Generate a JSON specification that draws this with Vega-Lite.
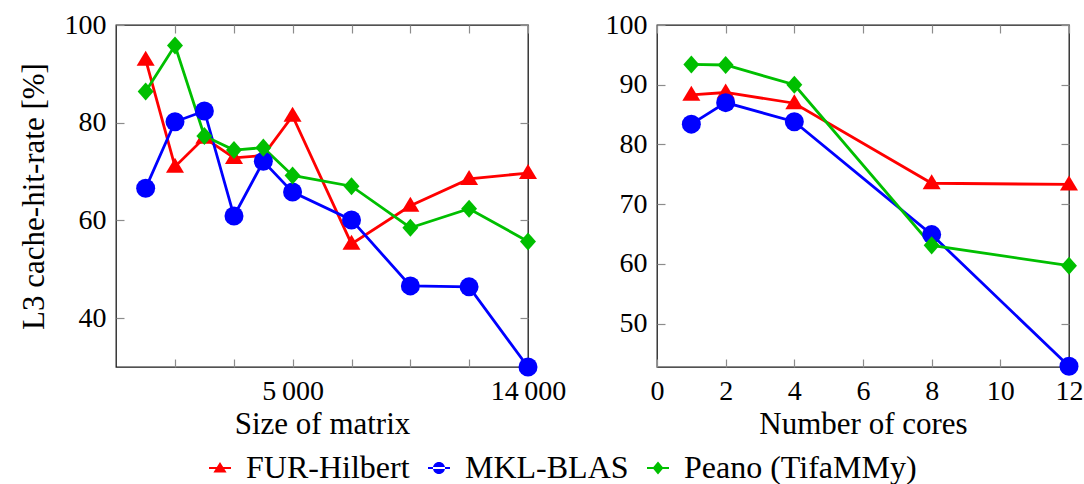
{
  "$schema": "https://vega.github.io/schema/vega-lite/v6.json",
  "padding": {"left": 17, "top": 10, "right": 5, "bottom": 5},
  "datasets": {
    "size": [
      {"series": "FUR-Hilbert", "size": 2630, "rate": 92.9},
      {"series": "FUR-Hilbert", "size": 2990, "rate": 71.0},
      {"series": "FUR-Hilbert", "size": 3400, "rate": 76.9},
      {"series": "FUR-Hilbert", "size": 3870, "rate": 72.8},
      {"series": "FUR-Hilbert", "size": 4400, "rate": 73.3},
      {"series": "FUR-Hilbert", "size": 5000, "rate": 81.4},
      {"series": "FUR-Hilbert", "size": 6470, "rate": 55.2},
      {"series": "FUR-Hilbert", "size": 8370, "rate": 63.0},
      {"series": "FUR-Hilbert", "size": 10820, "rate": 68.5},
      {"series": "FUR-Hilbert", "size": 14000, "rate": 69.7},
      {"series": "MKL-BLAS", "size": 2630, "rate": 66.6},
      {"series": "MKL-BLAS", "size": 2990, "rate": 80.2},
      {"series": "MKL-BLAS", "size": 3400, "rate": 82.4},
      {"series": "MKL-BLAS", "size": 3870, "rate": 60.9},
      {"series": "MKL-BLAS", "size": 4400, "rate": 72.1},
      {"series": "MKL-BLAS", "size": 5000, "rate": 65.8},
      {"series": "MKL-BLAS", "size": 6470, "rate": 60.1},
      {"series": "MKL-BLAS", "size": 8370, "rate": 46.6},
      {"series": "MKL-BLAS", "size": 10820, "rate": 46.4},
      {"series": "MKL-BLAS", "size": 14000, "rate": 30.0},
      {"series": "Peano (TifaMMy)", "size": 2630, "rate": 86.4},
      {"series": "Peano (TifaMMy)", "size": 2990, "rate": 95.8},
      {"series": "Peano (TifaMMy)", "size": 3400, "rate": 77.3},
      {"series": "Peano (TifaMMy)", "size": 3870, "rate": 74.4},
      {"series": "Peano (TifaMMy)", "size": 4400, "rate": 74.9},
      {"series": "Peano (TifaMMy)", "size": 5000, "rate": 69.2},
      {"series": "Peano (TifaMMy)", "size": 6470, "rate": 67.0},
      {"series": "Peano (TifaMMy)", "size": 8370, "rate": 58.5},
      {"series": "Peano (TifaMMy)", "size": 10820, "rate": 62.4},
      {"series": "Peano (TifaMMy)", "size": 14000, "rate": 55.7}
    ],
    "cores": [
      {"series": "FUR-Hilbert", "cores": 1, "rate": 88.3},
      {"series": "FUR-Hilbert", "cores": 2, "rate": 88.7},
      {"series": "FUR-Hilbert", "cores": 4, "rate": 86.9},
      {"series": "FUR-Hilbert", "cores": 8, "rate": 73.5},
      {"series": "FUR-Hilbert", "cores": 12, "rate": 73.3},
      {"series": "MKL-BLAS", "cores": 1, "rate": 83.4},
      {"series": "MKL-BLAS", "cores": 2, "rate": 87.0},
      {"series": "MKL-BLAS", "cores": 4, "rate": 83.8},
      {"series": "MKL-BLAS", "cores": 8, "rate": 64.9},
      {"series": "MKL-BLAS", "cores": 12, "rate": 42.85},
      {"series": "Peano (TifaMMy)", "cores": 1, "rate": 93.4},
      {"series": "Peano (TifaMMy)", "cores": 2, "rate": 93.3},
      {"series": "Peano (TifaMMy)", "cores": 4, "rate": 90.0},
      {"series": "Peano (TifaMMy)", "cores": 8, "rate": 63.1},
      {"series": "Peano (TifaMMy)", "cores": 12, "rate": 59.7}
    ]
  },
  "config": {
    "font": "Liberation Serif",
    "view": {"stroke": "#1a1a1a", "strokeWidth": 1.3},
    "axis": {
      "domain": false, "grid": false, "labelFlush": false,
      "tickSize": -8, "tickColor": "#8c8c8c", "tickWidth": 1.2,
      "labelFont": "Liberation Serif", "labelFontSize": 28, "labelColor": "#000", "labelPadding": 18,
      "titleFont": "Liberation Serif", "titleFontSize": 31, "titleFontWeight": "normal", "titleColor": "#000"
    },
    "legend": {
      "labelFont": "Liberation Serif", "labelFontSize": 32, "labelColor": "#000", "labelLimit": 0,
      "labelOffset": 10, "columnPadding": 13, "padding": 0,
      "symbolSize": 484, "symbolStrokeWidth": 0
    },
    "style": {"guide-label": {"font": "Liberation Serif"}}
  },
  "spacing": 37,
  "hconcat": [
    {
      "width": 412, "height": 342,
      "data": {"name": "size"},
      "layer": [
        {
          "mark": {"type": "line", "strokeWidth": 2.8},
          "encoding": {
            "x": {"field": "size", "type": "quantitative",
              "scale": {"type": "log", "domain": [2310, 14000], "nice": false},
              "axis": {"orient": "bottom", "values": [2990, 3870, 5000, 6470, 8370, 10820, 14000],
                "labelExpr": "datum.value == 5000 ? '5\u2009000' : datum.value == 14000 ? '14\u2009000' : ''",
                "title": "Size of matrix"}},
            "y": {"field": "rate", "type": "quantitative",
              "scale": {"domain": [30, 100], "nice": false, "zero": false},
              "axis": {"orient": "left", "values": [40, 60, 80, 100], "title": "L3 cache-hit-rate [%]", "titlePadding": 14}},
            "stroke": {"field": "series", "type": "nominal",
              "scale": {"domain": ["FUR-Hilbert", "MKL-BLAS", "Peano (TifaMMy)"], "range": ["#ff0000", "#0000ff", "#00bf00"]},
              "legend": null}
          }
        },
        {
          "mark": {"type": "point", "filled": true, "opacity": 1, "size": 361},
          "encoding": {
            "x": {"field": "size", "type": "quantitative",
              "axis": {"orient": "top", "values": [2990, 3870, 5000, 6470, 8370, 10820, 14000], "labels": false, "title": null}},
            "y": {"field": "rate", "type": "quantitative",
              "axis": {"orient": "right", "values": [40, 60, 80, 100], "labels": false, "title": null}},
            "color": {"field": "series", "type": "nominal",
              "scale": {"range": ["#ff0000", "#0000ff", "#00bf00"]},
              "legend": {
                "orient": "none", "direction": "horizontal", "legendX": 88, "legendY": 427,
                "title": null, "labelFont": "Liberation Serif",
                "encode": {"labels": {"font": {"value": "Liberation Serif"}}},
                "symbolType": {"expr": "datum.value === 'FUR-Hilbert' ? 'M-1,-0.1H1V0.1H-1Z M0,-0.55L0.6,0.42L-0.6,0.42Z' : datum.value === 'MKL-BLAS' ? 'M-1,-0.1H1V0.1H-1Z M-0.55,0A0.55,0.55,0,1,0,0.55,0A0.55,0.55,0,1,0,-0.55,0Z' : 'M-1,-0.1H1V0.1H-1Z M0,-0.6L0.5,0L0,0.6L-0.5,0Z'"}
              }},
            "shape": {"field": "series", "type": "nominal",
              "scale": {"domain": ["FUR-Hilbert", "MKL-BLAS", "Peano (TifaMMy)"],
                "range": ["M0,-0.95L0.95,0.63L-0.95,0.63Z", "circle", "M0,-0.95L0.84,0L0,0.95L-0.84,0Z"]},
              "legend": null}
          }
        }
      ]
    },
    {
      "width": 412, "height": 342,
      "data": {"name": "cores"},
      "layer": [
        {
          "mark": {"type": "line", "strokeWidth": 2.8},
          "encoding": {
            "x": {"field": "cores", "type": "quantitative",
              "scale": {"domain": [0, 12], "nice": false},
              "axis": {"orient": "bottom", "values": [0, 2, 4, 6, 8, 10, 12], "title": "Number of cores"}},
            "y": {"field": "rate", "type": "quantitative",
              "scale": {"domain": [42.73, 100], "nice": false, "zero": false},
              "axis": {"orient": "left", "values": [50, 60, 70, 80, 90, 100], "title": null}},
            "stroke": {"field": "series", "type": "nominal", "legend": null}
          }
        },
        {
          "mark": {"type": "point", "filled": true, "opacity": 1, "size": 361},
          "encoding": {
            "x": {"field": "cores", "type": "quantitative",
              "axis": {"orient": "top", "values": [0, 2, 4, 6, 8, 10, 12], "labels": false, "title": null}},
            "y": {"field": "rate", "type": "quantitative",
              "axis": {"orient": "right", "values": [50, 60, 70, 80, 90, 100], "labels": false, "title": null}},
            "color": {"field": "series", "type": "nominal",
              "legend": {
                "orient": "none", "direction": "horizontal", "legendX": 88, "legendY": 427,
                "title": null, "labelFont": "Liberation Serif",
                "encode": {"labels": {"font": {"value": "Liberation Serif"}}},
                "symbolType": {"expr": "datum.value === 'FUR-Hilbert' ? 'M-1,-0.1H1V0.1H-1Z M0,-0.55L0.6,0.42L-0.6,0.42Z' : datum.value === 'MKL-BLAS' ? 'M-1,-0.1H1V0.1H-1Z M-0.55,0A0.55,0.55,0,1,0,0.55,0A0.55,0.55,0,1,0,-0.55,0Z' : 'M-1,-0.1H1V0.1H-1Z M0,-0.6L0.5,0L0,0.6L-0.5,0Z'"}
              }},
            "shape": {"field": "series", "type": "nominal", "legend": null}
          }
        }
      ]
    }
  ]
}
